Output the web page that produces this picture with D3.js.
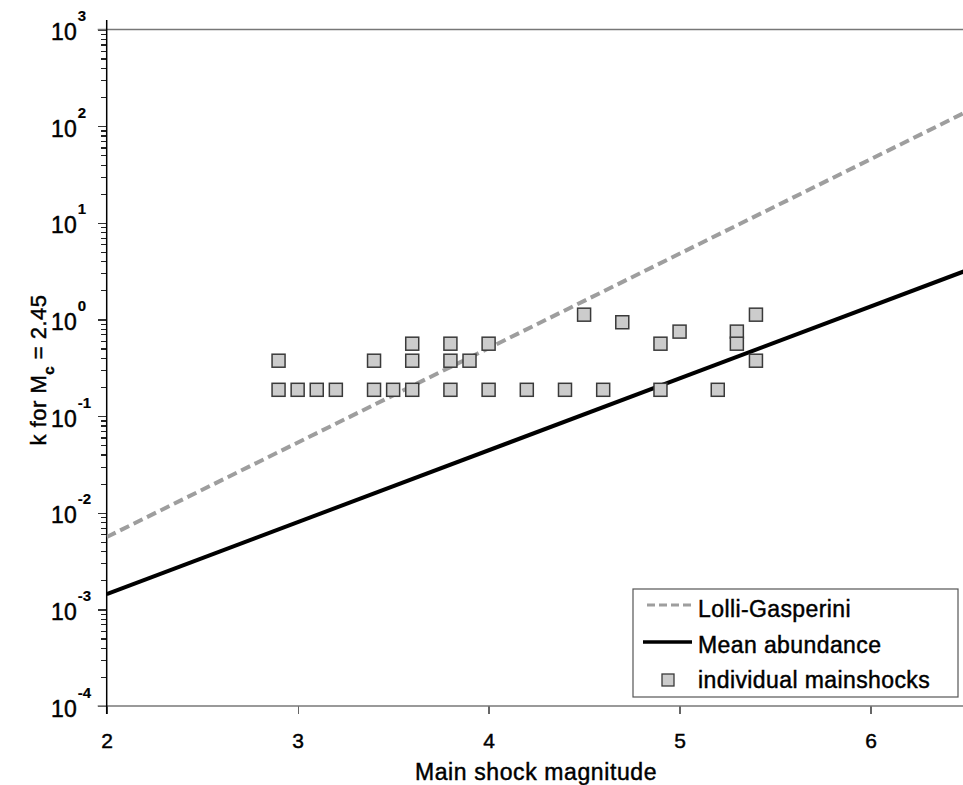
<!DOCTYPE html>
<html lang="en">
<head>
<meta charset="UTF-8">
<script src="https://d3js.org/d3.v7.min.js"></script>
<title>k vs main shock magnitude</title>
<style>
  body { margin: 0; background: #fff; }
  svg { display: block; font-family: "Liberation Sans", Arial, sans-serif; }
  svg text { stroke: #000; stroke-width: 0.45px; }
  .tick line { shape-rendering: crispEdges; }
</style>
</head>
<body>
<div class="graph"></div>
<script>
// x tick values and y decades
var xTicks = [2, 3, 4, 5, 6];
var yDecades = [-4, -3, -2, -1, 0, 1, 2, 3];

// straight lines in log space, given by their end points
var lolliMag = [2, 6.5];
var lolliK = [0.0056, 140];
var meanMag = [2, 6.5];
var meanK = [0.00144, 3.2];

// individual mainshocks
var shockMag = [2.9, 2.9, 3.0, 3.1, 3.2, 3.4, 3.4, 3.5, 3.6, 3.6, 3.6,
                3.8, 3.8, 3.8, 3.9, 4.0, 4.0, 4.2, 4.4, 4.5, 4.6, 4.7,
                4.9, 4.9, 5.0, 5.2, 5.3, 5.3, 5.4, 5.4];
var shockK = [0.374, 0.187, 0.187, 0.187, 0.187, 0.374, 0.187, 0.187, 0.561, 0.374, 0.187,
              0.561, 0.374, 0.187, 0.374, 0.561, 0.187, 0.187, 0.187, 1.12, 0.187, 0.935,
              0.561, 0.187, 0.748, 0.187, 0.748, 0.561, 1.12, 0.374];

var W = 963, H = 785;
var pLeft = 106.7, pRight = 966, pTop = 29.5, pBottom = 706;

var x = d3.scaleLinear().domain([2, 6.5]).range([pLeft, pRight]);
var y = d3.scaleLog().domain([1e-4, 1e3]).range([pBottom, pTop]);

var svg = d3.select(".graph").append("svg")
    .attr("width", W).attr("height", H);

svg.append("defs").append("clipPath").attr("id", "clip")
  .append("rect")
    .attr("x", pLeft).attr("y", pTop)
    .attr("width", pRight - pLeft).attr("height", pBottom - pTop);

// minor y ticks
var minors = [];
yDecades.slice(0, -1).forEach(function (e) {
  for (var k = 2; k <= 9; k++) minors.push(k * Math.pow(10, e));
});

svg.append("g")
    .attr("transform", "translate(" + pLeft + ",0)")
    .call(d3.axisLeft(y).tickValues(minors).tickSize(6).tickFormat(""))
    .call(function (g) { g.select(".domain").remove(); })
    .selectAll("line").attr("stroke", "#222").attr("stroke-width", 1.2);

var yMajor = svg.append("g")
    .attr("transform", "translate(" + pLeft + ",0)")
    .call(d3.axisLeft(y).tickValues(yDecades.map(function (e) { return Math.pow(10, e); }))
      .tickSize(9).tickFormat(""))
    .call(function (g) { g.select(".domain").remove(); });
yMajor.selectAll("line").attr("stroke", "#333").attr("stroke-width", 1.3);

yMajor.selectAll(".tick").append("text")
    .attr("x", -30).attr("y", 10)
    .attr("text-anchor", "end")
    .attr("fill", "#000")
    .style("font-size", "23px")
    .text("10");
yMajor.selectAll(".tick").append("text")
    .attr("x", -29).attr("y", -9)
    .attr("text-anchor", "start")
    .attr("fill", "#000")
    .style("font-size", "15px")
    .style("font-weight", "bold")
    .style("stroke-width", "0.2px")
    .text(function (d) { return Math.round(Math.log10(d)); });

// x axis
var xAxis = svg.append("g")
    .attr("transform", "translate(0," + pBottom + ")")
    .call(d3.axisBottom(x).tickValues(xTicks).tickSize(8).tickPadding(19).tickFormat(d3.format("d")))
    .call(function (g) { g.select(".domain").remove(); });
xAxis.selectAll("line").attr("stroke", "#666").attr("stroke-width", 1.3);
xAxis.selectAll("text").attr("fill", "#000").style("font-size", "21px");

// frame lines
svg.append("line").attr("x1", 97.7).attr("x2", W).attr("y1", pTop).attr("y2", pTop)
    .attr("stroke", "#777").attr("stroke-width", 1.5);
svg.append("line").attr("x1", 97.7).attr("x2", W).attr("y1", pBottom).attr("y2", pBottom)
    .attr("stroke", "#777").attr("stroke-width", 1.5);
svg.append("line").attr("x1", pLeft).attr("x2", pLeft).attr("y1", 20).attr("y2", 714)
    .attr("stroke", "#000").attr("stroke-width", 1.5);

// axis titles
svg.append("text")
    .attr("x", 536).attr("y", 780)
    .attr("text-anchor", "middle")
    .style("font-size", "23px")
    .style("letter-spacing", "0.6px")
    .text("Main shock magnitude");

var yt = svg.append("text")
    .attr("transform", "translate(46,370) rotate(-90)")
    .attr("text-anchor", "middle")
    .style("font-size", "22px")
    .style("letter-spacing", "0.5px");
yt.append("tspan").text("k for M");
yt.append("tspan").attr("dy", 8).style("font-size", "15px").style("font-weight", "bold").text("c");
yt.append("tspan").attr("dy", -8).text(" = 2.45");

// lines
var line = d3.line()
    .x(function (d) { return x(d[0]); })
    .y(function (d) { return y(d[1]); });

var plot = svg.append("g").attr("clip-path", "url(#clip)");

plot.append("path")
    .datum(d3.zip(meanMag, meanK))
    .attr("d", line)
    .attr("fill", "none")
    .attr("stroke", "#000")
    .attr("stroke-width", 4);

plot.append("path")
    .datum(d3.zip(lolliMag, lolliK))
    .attr("d", line)
    .attr("fill", "none")
    .attr("stroke", "#9e9e9e")
    .attr("stroke-width", 4)
    .attr("stroke-dasharray", "10,5");

// squares
var s = 13;
svg.append("g").selectAll("rect")
    .data(d3.zip(shockMag, shockK))
  .enter().append("rect")
    .attr("x", function (d) { return x(d[0]) - s / 2; })
    .attr("y", function (d) { return y(d[1]) - s / 2; })
    .attr("width", s).attr("height", s)
    .attr("fill", "#cccccc")
    .attr("stroke", "#3a3a3a")
    .attr("stroke-width", 1.5);

// legend
var lg = svg.append("g");
lg.append("rect")
    .attr("x", 633).attr("y", 589).attr("width", 325).attr("height", 108)
    .attr("fill", "#fff").attr("stroke", "#555").attr("stroke-width", 1.2);

lg.append("line").attr("x1", 647).attr("x2", 692).attr("y1", 605).attr("y2", 605)
    .attr("stroke", "#9e9e9e").attr("stroke-width", 3).attr("stroke-dasharray", "8,4");
lg.append("line").attr("x1", 643).attr("x2", 692).attr("y1", 642).attr("y2", 642)
    .attr("stroke", "#000").attr("stroke-width", 3.5);
lg.append("rect").attr("x", 662).attr("y", 674).attr("width", 12).attr("height", 12)
    .attr("fill", "#cccccc").attr("stroke", "#3a3a3a").attr("stroke-width", 1.3);

var legendText = ["Lolli-Gasperini", "Mean abundance", "individual mainshocks"];
lg.selectAll("text.lab")
    .data(legendText)
  .enter().append("text")
    .attr("class", "lab")
    .attr("x", 698)
    .attr("y", function (d, i) { return 617 + i * 35.5; })
    .style("font-size", "23px")
    .style("letter-spacing", "0.4px")
    .text(function (d) { return d; });
</script>
</body>
</html>
